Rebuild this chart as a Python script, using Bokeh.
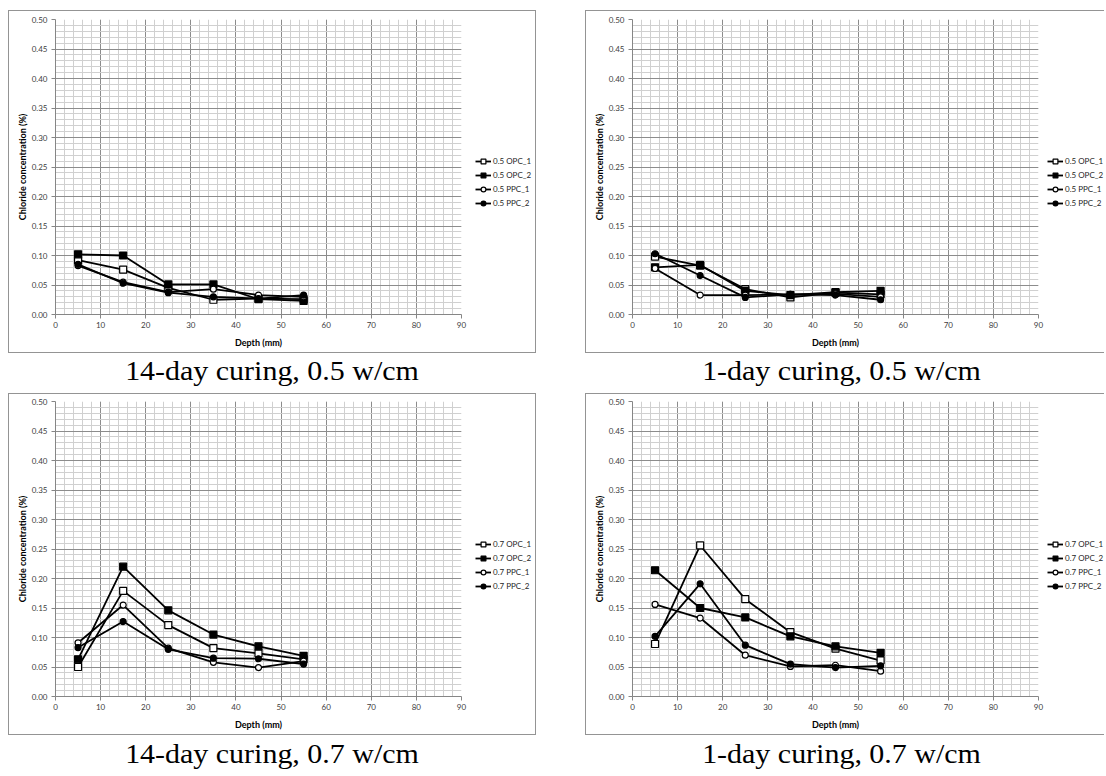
from bokeh.plotting import figure
from bokeh.models import (SingleIntervalTicker, Legend, LegendItem, Div, Spacer,
                          Range1d, NumeralTickFormatter)
from bokeh.layouts import row, column
from bokeh.embed import file_html
from bokeh.resources import INLINE

# ---------------- data ----------------
depth = [5, 15, 25, 35, 45, 55]
series_names = ["OPC_1", "OPC_2", "PPC_1", "PPC_2"]

# 14-day curing, 0.5 w/cm
d14_05_opc1 = [0.092, 0.076, 0.045, 0.025, 0.027, 0.026]
d14_05_opc2 = [0.102, 0.100, 0.051, 0.051, 0.026, 0.023]
d14_05_ppc1 = [0.083, 0.055, 0.038, 0.043, 0.033, 0.030]
d14_05_ppc2 = [0.085, 0.053, 0.037, 0.030, 0.027, 0.033]

# 1-day curing, 0.5 w/cm
d1_05_opc1 = [0.098, 0.083, 0.043, 0.029, 0.037, 0.034]
d1_05_opc2 = [0.080, 0.084, 0.040, 0.033, 0.038, 0.040]
d1_05_ppc1 = [0.078, 0.033, 0.033, 0.034, 0.035, 0.030]
d1_05_ppc2 = [0.103, 0.066, 0.029, 0.034, 0.033, 0.025]

# 14-day curing, 0.7 w/cm
d14_07_opc1 = [0.050, 0.179, 0.121, 0.082, 0.073, 0.063]
d14_07_opc2 = [0.063, 0.220, 0.146, 0.105, 0.085, 0.069]
d14_07_ppc1 = [0.091, 0.155, 0.082, 0.058, 0.049, 0.060]
d14_07_ppc2 = [0.083, 0.127, 0.080, 0.065, 0.064, 0.055]

# 1-day curing, 0.7 w/cm
d1_07_opc1 = [0.089, 0.256, 0.165, 0.109, 0.081, 0.061]
d1_07_opc2 = [0.214, 0.150, 0.134, 0.102, 0.085, 0.074]
d1_07_ppc1 = [0.156, 0.133, 0.070, 0.051, 0.053, 0.043]
d1_07_ppc2 = [0.102, 0.191, 0.087, 0.055, 0.049, 0.052]

captions = ["14-day curing, 0.5 w/cm", "1-day curing, 0.5 w/cm",
            "14-day curing, 0.7 w/cm", "1-day curing, 0.7 w/cm"]
x_label = "Depth (mm)"
y_label = "Chloride concentration (%)"

markers = ["square", "square", "circle", "circle"]
fills = ["white", "black", "white", "black"]
sizes = [7, 7, 6, 6]

BOX = "#949494"
FONT = "Lato"
B = f"1px solid {BOX}"
LW = 1.8


def make_main(data, height, b_top, b_bottom):
    p = figure(width=461, height=height, x_range=Range1d(0, 90), y_range=Range1d(0, 0.5),
               output_backend="svg", toolbar_location=None,
               min_border_left=46, min_border_right=9,
               min_border_top=b_top, min_border_bottom=b_bottom,
               background_fill_color="white", border_fill_color="white",
               outline_line_color=None,
               styles={"border-left": B, "border-top": B, "border-bottom": B,
                       "box-sizing": "border-box"})
    p.xaxis.ticker = SingleIntervalTicker(interval=10, num_minor_ticks=5)
    p.yaxis.ticker = SingleIntervalTicker(interval=0.05, num_minor_ticks=5)
    p.yaxis.formatter = NumeralTickFormatter(format="0.00")
    for ax in (p.xaxis[0], p.yaxis[0]):
        ax.axis_line_color = "#868686"
        ax.major_tick_line_color = "#868686"
        ax.major_tick_in = 0
        ax.major_tick_out = 4
        ax.minor_tick_line_color = None
        ax.major_label_text_font = FONT
        ax.major_label_text_font_size = "8px"
        ax.major_label_text_color = "#404040"
        ax.axis_label_text_font = FONT
        ax.axis_label_text_font_size = "9px"
        ax.axis_label_text_font_style = "bold"
        ax.axis_label_text_color = "#000000"
    p.xaxis.axis_label = x_label
    p.yaxis.axis_label = y_label
    p.xaxis.major_label_standoff = 3
    p.yaxis.major_label_standoff = 4
    p.xaxis.axis_label_standoff = 6
    p.yaxis.axis_label_standoff = 1
    for g in (p.xgrid[0], p.ygrid[0]):
        g.grid_line_color = "#8c8c8c"
        g.grid_line_width = 1
        g.minor_grid_line_color = "#d0d0d0"
        g.minor_grid_line_width = 1
    for vals, mk, fc, sz in zip(data, markers, fills, sizes):
        p.line(depth, vals, line_color="black", line_width=LW)
        p.scatter(depth, vals, marker=mk, size=sz, fill_color=fc,
                  line_color="black", line_width=1.2)
    return p


def make_legend(prefix, data, width, height, leg_x, leg_y, right_border):
    st = {"border-top": B, "border-bottom": B, "box-sizing": "border-box"}
    if right_border:
        st["border-right"] = B
    # the legend panel carries the same series, scrolled out of view, so that
    # its entries can show the series' line and marker
    q = figure(width=width, height=height, x_range=Range1d(-200, -100), y_range=Range1d(0, 0.5),
               output_backend="svg", toolbar_location=None,
               x_axis_type=None, y_axis_type=None,
               min_border=0, min_border_left=0, min_border_right=0,
               min_border_top=0, min_border_bottom=0,
               background_fill_color="white", border_fill_color="white",
               outline_line_color=None, styles=st)
    q.xgrid.visible = False
    q.ygrid.visible = False
    items = []
    for name, vals, mk, fc, sz in zip(series_names, data, markers, fills, sizes):
        l = q.line(depth, vals, line_color="black", line_width=LW)
        s = q.scatter(depth, vals, marker=mk, size=sz, fill_color=fc,
                      line_color="black", line_width=1.2)
        items.append(LegendItem(label=f"{prefix} {name}", renderers=[l, s]))
    leg = Legend(items=items, location=(leg_x, leg_y), border_line_color=None,
                 background_fill_alpha=0, padding=0, margin=0, spacing=2,
                 glyph_width=16, glyph_height=12, label_height=12, label_standoff=2,
                 label_text_font=FONT, label_text_font_size="8px",
                 label_text_color="#262626")
    q.add_layout(leg)
    return q


def caption(text, w, h, lh):
    html = (f'<div style="width:{w}px;text-align:center;font-family:\'Liberation Serif\',serif;'
            f'font-size:28px;line-height:{lh}px;color:#000;white-space:nowrap;'
            f'transform:scaleX(1.07);transform-origin:center">{text}</div>')
    return Div(text=html, width=w, height=h, margin=0)


s1 = [d14_05_opc1, d14_05_opc2, d14_05_ppc1, d14_05_ppc2]
s2 = [d1_05_opc1, d1_05_opc2, d1_05_ppc1, d1_05_ppc2]
s3 = [d14_07_opc1, d14_07_opc2, d14_07_ppc1, d14_07_ppc2]
s4 = [d1_07_opc1, d1_07_opc2, d1_07_ppc1, d1_07_ppc2]

m1 = make_main(s1, 343, 8, 40)
l1 = make_legend("0.5", s1, 67, 343, 6, 105, True)
m2 = make_main(s2, 343, 8, 40)
l2 = make_legend("0.5", s2, 58, 343, 1, 105, False)
m3 = make_main(s3, 342, 7, 40)
l3 = make_legend("0.7", s3, 67, 342, 6, 104, True)
m4 = make_main(s4, 342, 7, 40)
l4 = make_legend("0.7", s4, 58, 342, 1, 104, False)

grid = column(
    Spacer(width=1096, height=10, margin=0),
    row(m1, l1, Spacer(width=49, height=343, margin=0), m2, l2, spacing=0),
    row(caption(captions[0], 528, 40, 36), Spacer(width=49, height=40, margin=0),
        caption(captions[1], 513, 40, 36), spacing=0),
    row(m3, l3, Spacer(width=49, height=342, margin=0), m4, l4, spacing=0),
    row(caption(captions[2], 528, 33, 37), Spacer(width=49, height=33, margin=0),
        caption(captions[3], 513, 33, 37), spacing=0),
    spacing=0,
)
layout = row(Spacer(width=8, height=768, margin=0), grid, spacing=0)

open("out.html", "w").write(file_html(layout, INLINE))
